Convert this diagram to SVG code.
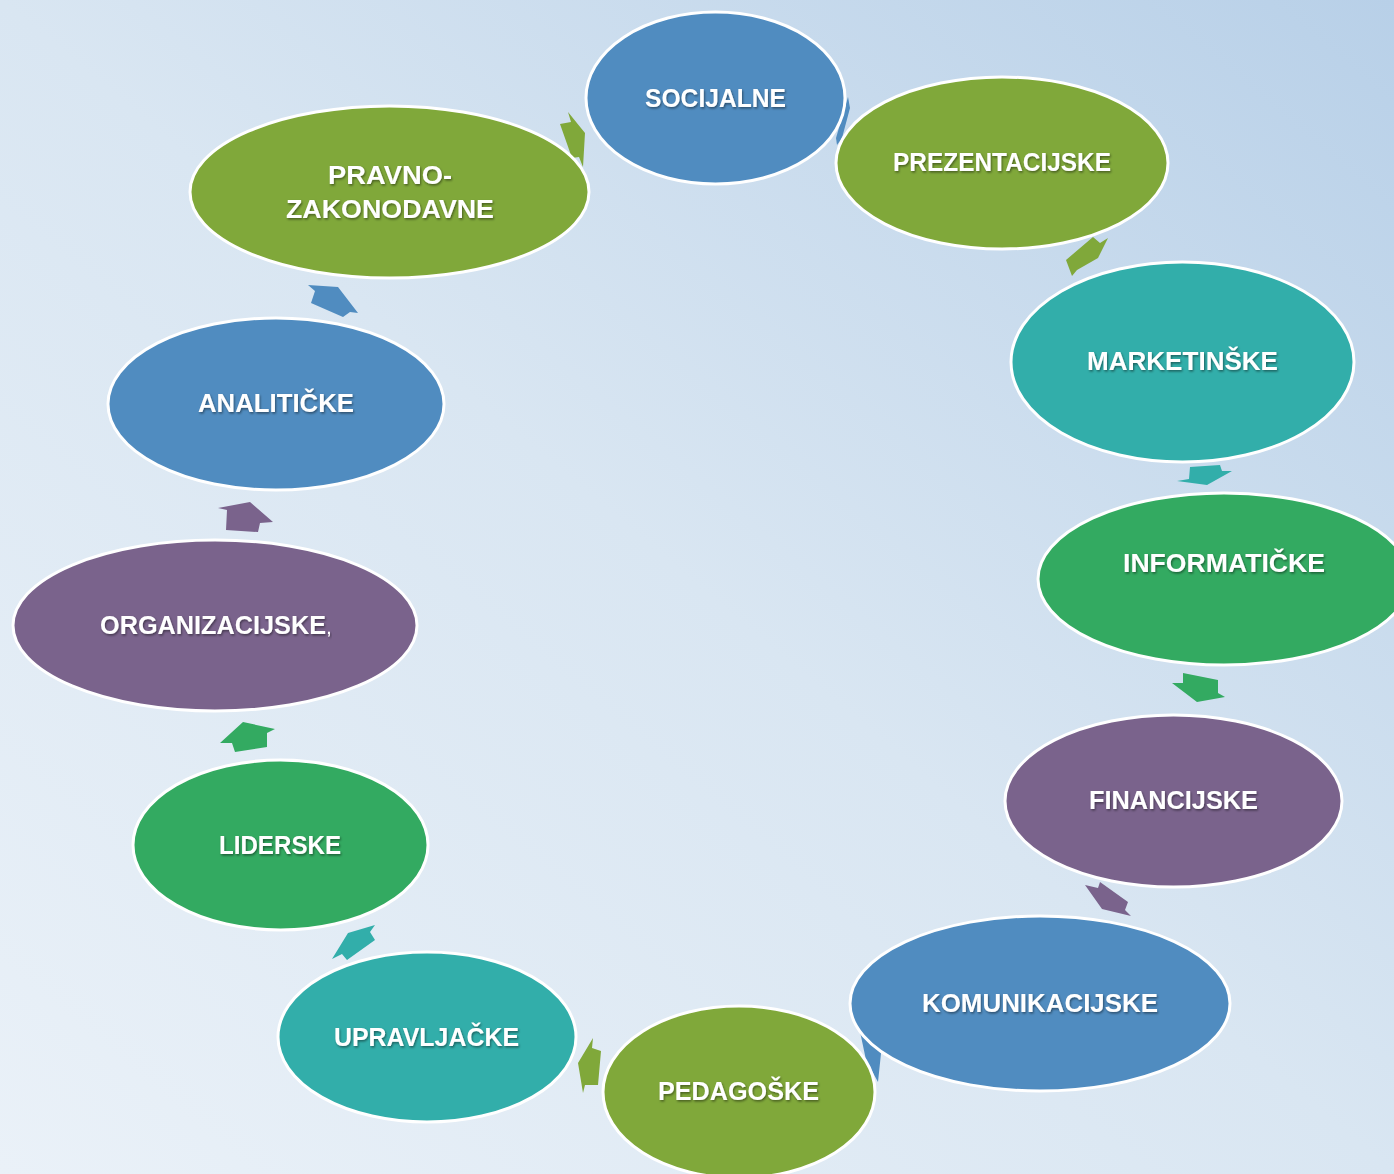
<svg xmlns="http://www.w3.org/2000/svg" width="1394" height="1174" viewBox="0 0 1394 1174">
<defs>
<linearGradient id="bg" x1="1" y1="0" x2="0" y2="1">
<stop offset="0" stop-color="#B8D0E8"/>
<stop offset="0.5" stop-color="#D9E6F2"/>
<stop offset="1" stop-color="#EAF1F8"/>
</linearGradient>
<filter id="sh" x="-10%" y="-30%" width="120%" height="160%">
<feDropShadow dx="1" dy="1.5" stdDeviation="1" flood-color="#000" flood-opacity="0.45"/>
</filter>
</defs>
<style>
.n{stroke:#fff;stroke-width:3}
.blue{fill:#508CC0}
.olive{fill:#80A83A}
.teal{fill:#32AEAA}
.green{fill:#33AA61}
.purple{fill:#7A638C}
.t{font-family:"Liberation Sans",Arial,sans-serif;font-weight:bold;font-size:25px;fill:#fff;text-anchor:middle;filter:url(#sh)}
</style>
<rect width="1394" height="1174" fill="url(#bg)"/>
<g id="connectors">
<polygon class="olive" points="568,112 585,133 583,167 579,157 572,158 560,124 571,122"/>
<polygon class="blue" points="848,97 850,108 842,138 837,145 836,138"/>
<polygon class="olive" points="1093,237 1100,243 1108,238 1098,258 1077,270 1072,276 1066,260"/>
<polygon class="teal" points="1190,467 1220,465 1222,471 1232,471 1207,485 1177,481 1189,479"/>
<polygon class="green" points="1183,673 1218,680 1218,693 1225,697 1197,702 1172,683 1183,683"/>
<polygon class="purple" points="1085,885 1098,888 1100,882 1128,902 1125,910 1131,916 1102,909"/>
<polygon class="blue" points="858,1022 874,1044 882,1044 878,1082 866,1060"/>
<polygon class="olive" points="593,1038 592,1048 601,1051 598,1085 585,1085 583,1093 578,1063"/>
<polygon class="teal" points="348,933 375,925 370,932 375,940 347,960 342,954 332,959"/>
<polygon class="green" points="220,743 243,722 275,729 267,733 267,747 235,752 232,743"/>
<polygon class="purple" points="218,508 250,502 273,522 260,523 258,532 226,530 227,510"/>
<polygon class="blue" points="308,285 338,287 358,313 350,312 343,317 311,303 315,291"/>
</g>
<g id="socijalne"><ellipse class="n blue" cx="715.5" cy="98" rx="129.5" ry="86"/><text class="t" x="715.5" y="107" textLength="141" lengthAdjust="spacingAndGlyphs">SOCIJALNE</text></g>
<g id="prezentacijske"><ellipse class="n olive" cx="1002" cy="163" rx="166" ry="86"/><text class="t" x="1002" y="171" textLength="218" lengthAdjust="spacingAndGlyphs">PREZENTACIJSKE</text></g>
<g id="marketinske"><ellipse class="n teal" cx="1182.5" cy="362" rx="171.5" ry="100"/><text class="t" x="1182.5" y="370" textLength="191" lengthAdjust="spacingAndGlyphs">MARKETINŠKE</text></g>
<g id="informaticke"><ellipse class="n green" cx="1224" cy="579" rx="186" ry="86"/><text class="t" x="1224" y="572" textLength="202" lengthAdjust="spacingAndGlyphs">INFORMATIČKE</text></g>
<g id="financijske"><ellipse class="n purple" cx="1173.5" cy="801" rx="168.5" ry="86"/><text class="t" x="1173.5" y="809" textLength="169" lengthAdjust="spacingAndGlyphs">FINANCIJSKE</text></g>
<g id="komunikacijske"><ellipse class="n blue" cx="1040" cy="1003.5" rx="190" ry="87.5"/><text class="t" x="1040" y="1012" textLength="236" lengthAdjust="spacingAndGlyphs">KOMUNIKACIJSKE</text></g>
<g id="pedagoske"><ellipse class="n olive" cx="739" cy="1092" rx="136" ry="86"/><text class="t" x="738.5" y="1100" textLength="161" lengthAdjust="spacingAndGlyphs">PEDAGOŠKE</text></g>
<g id="upravljacke"><ellipse class="n teal" cx="427" cy="1037" rx="149" ry="85"/><text class="t" x="426.5" y="1046" textLength="185" lengthAdjust="spacingAndGlyphs">UPRAVLJAČKE</text></g>
<g id="liderske"><ellipse class="n green" cx="280.5" cy="845" rx="147.5" ry="85"/><text class="t" x="280" y="854" textLength="122" lengthAdjust="spacingAndGlyphs">LIDERSKE</text></g>
<g id="organizacijske"><ellipse class="n purple" cx="215" cy="625.5" rx="202" ry="85.5"/><text class="t" x="213" y="634" textLength="226" lengthAdjust="spacingAndGlyphs">ORGANIZACIJSKE</text><text class="t" x="329" y="634" style="font-size:14px">,</text></g>
<g id="analiticke"><ellipse class="n blue" cx="276" cy="404" rx="168" ry="86"/><text class="t" x="276" y="412" textLength="156" lengthAdjust="spacingAndGlyphs">ANALITIČKE</text></g>
<g id="pravno"><ellipse class="n olive" cx="389.5" cy="192" rx="199.5" ry="86"/><text class="t" x="390" y="184" textLength="124" lengthAdjust="spacingAndGlyphs">PRAVNO-</text><text class="t" x="390" y="218" textLength="208" lengthAdjust="spacingAndGlyphs">ZAKONODAVNE</text></g>
</svg>
